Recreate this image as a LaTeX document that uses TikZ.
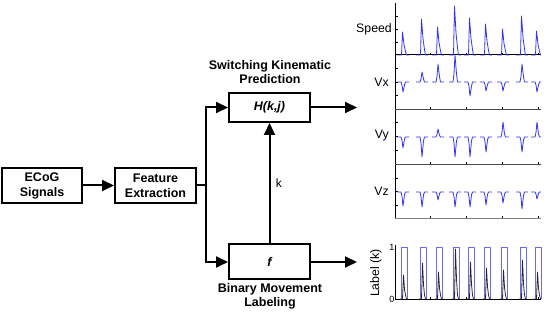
\documentclass[tikz,border=0pt]{standalone}
\usepackage{fontspec}
\setmainfont{Liberation Sans}
\usetikzlibrary{arrows.meta}
\definecolor{tr}{RGB}{50,50,245}
\definecolor{pulse}{RGB}{105,105,255}
\begin{document}
\begin{tikzpicture}[x=1pt,y=-1pt,
 box/.style={draw, line width=2pt, align=center, font=\fontsize{12.5}{15}\selectfont\bfseries, inner sep=0pt},
 conn/.style={line width=2pt},
 arr/.style={conn, -{Triangle[length=12pt,width=11pt]}},
 title/.style={align=center, font=\fontsize{12.5}{14}\selectfont\bfseries},
 axlab/.style={font=\fontsize{12.3}{14}\selectfont, anchor=east, inner sep=1pt},
 ax/.style={line width=0.8pt},
 trace/.style={tr, line width=0.8pt, line join=round},
 ptrace/.style={pulse, line width=0.8pt, line join=round},
 ktrace/.style={black!85, line width=0.8pt, line join=round},
]
\useasboundingbox (0,0) rectangle (544,312);

% blocks
\node[box, minimum width=80pt, minimum height=35pt] (ecog) at (42,185.5) {ECoG\\Signals};
\node[box, minimum width=81pt, minimum height=35pt] (feat) at (155.5,185.5) {Feature\\Extraction};
\node[box, minimum width=81pt, minimum height=29pt, font=\fontsize{12.5}{15}\selectfont\bfseries\itshape] (H) at (269.5,107.5) {H(k,j)};
\node[box, minimum width=81pt, minimum height=35pt, font=\fontsize{12.5}{15}\selectfont\bfseries\itshape] (f) at (269.5,262) {f};
\node[title] (swt) at (270,72) {Switching Kinematic\\Prediction};
\node[title] (bml) at (270,296.5) {Binary Movement\\Labeling};

% connectors
\coordinate (split) at (206,185.5);
\coordinate (hout) at (357,107.5);
\coordinate (fout) at (357,262);
\draw[arr] (ecog) -- (feat);
\draw[conn] (feat.east) -- (split);
\draw[arr] (split) |- (H.west);
\draw[arr] (split) |- (f.west);
\draw[arr] (H.east) -- (hout);
\draw[arr] (f.east) -- (fout);
\draw[arr] (f.north) -- node[right, font=\fontsize{12}{14}\selectfont, xshift=2pt] (klab) {k} (H.south);

% plot axes
\draw[ax] (395,3) -- (395,218);
\draw[ax, line width=1pt] (395,55) -- (541,55);
\draw[ax, black!70] (395,109) -- (541,109);
\draw[ax, black!70] (395,164) -- (541,164);
\draw[ax, black!50] (395,218) -- (541,218);
\foreach \yy in {16,29,42,68,82,95,122,136,150,178,191,205}
  \draw[line width=0.6pt] (395,\yy) -- (397.5,\yy);
\foreach \xx in {430,466,502,538} {
  \draw[line width=0.6pt] (\xx,55) -- (\xx,53);
  \draw[line width=0.6pt] (\xx,109) -- (\xx,107);
  \draw[line width=0.6pt] (\xx,164) -- (\xx,162);
  \draw[line width=0.6pt] (\xx,218) -- (\xx,216);
}
\node[axlab] (lsp) at (393,29) {Speed};
\node[axlab] (lvx) at (390,82) {Vx};
\node[axlab] (lvy) at (390,136) {Vy};
\node[axlab] (lvz) at (390,191) {Vz};

% label panel
\draw[ax] (395,245) -- (395,299) -- (541,299);
\foreach \xx in {430,466,502,538}
  \draw[line width=0.6pt] (\xx,299) -- (\xx,297);
\node[font=\fontsize{9}{10}\selectfont, anchor=east, inner sep=0.5pt] (one) at (395,247) {1};
\node[font=\fontsize{9}{10}\selectfont, anchor=east, inner sep=0.5pt] (zero) at (395,299) {0};
\node[font=\fontsize{12.3}{14}\selectfont, rotate=90] (lk) at (376,273) {Label (k)};

% traces
\foreach \c/\sp/\vx/\vy/\vz/\lp in {403/32/92/148/206/275, 422/19/72/157/207/263, 438/27/64/129/200/272, 455/6/55/157/207/249, 470/18/96/157/207/262, 486/24/91/152/205/268, 503/29/91/122/203/270, 522/16/64/152/209/260, 537/31/92/122/199/272} {
  \draw[trace] ({\c-6},55) -- ({\c-1.5},55) -- ({\c-0.5},\sp) -- ({\c+1},{55-0.45*(55-\sp)}) -- ({\c+2.5},{55-0.15*(55-\sp)}) -- ({\c+3.5},55) -- ({min(\c+6,541)},55);
  \draw[trace] ({\c-6},82) -- ({\c-2},82) -- ({\c-1},{82+0.3*(\vx-82)}) -- ({\c},\vx) -- ({\c+1.5},{82+0.3*(\vx-82)}) -- ({\c+2.5},82) -- ({min(\c+6,541)},82);
  \draw[trace] ({\c-6},137) -- ({\c-2},137) -- ({\c-1},{137+0.3*(\vy-137)}) -- ({\c},\vy) -- ({\c+1.5},{137+0.2*(\vy-137)}) -- ({\c+2.5},137) -- ({min(\c+6,541)},137);
  \draw[trace] ({\c-6},192) -- ({\c-2},192) -- ({\c-1},{192+0.3*(\vz-192)}) -- ({\c},\vz) -- ({\c+1.5},{192+0.2*(\vz-192)}) -- ({\c+2.5},192) -- ({min(\c+6,541)},192);
  \draw[ktrace] ({\c-3},299) -- ({\c-0.5},299) -- ({\c+0.5},\lp) -- ({\c+1.5},{\lp+0.6*(299-\lp)}) -- ({\c+2.5},295) -- ({\c+3.5},299);
  \draw[ptrace] ({\c-1.5},299) -- ({\c-1.5},247) -- ({\c+4},247) -- ({\c+4},299);
}
\end{tikzpicture}
\end{document}
